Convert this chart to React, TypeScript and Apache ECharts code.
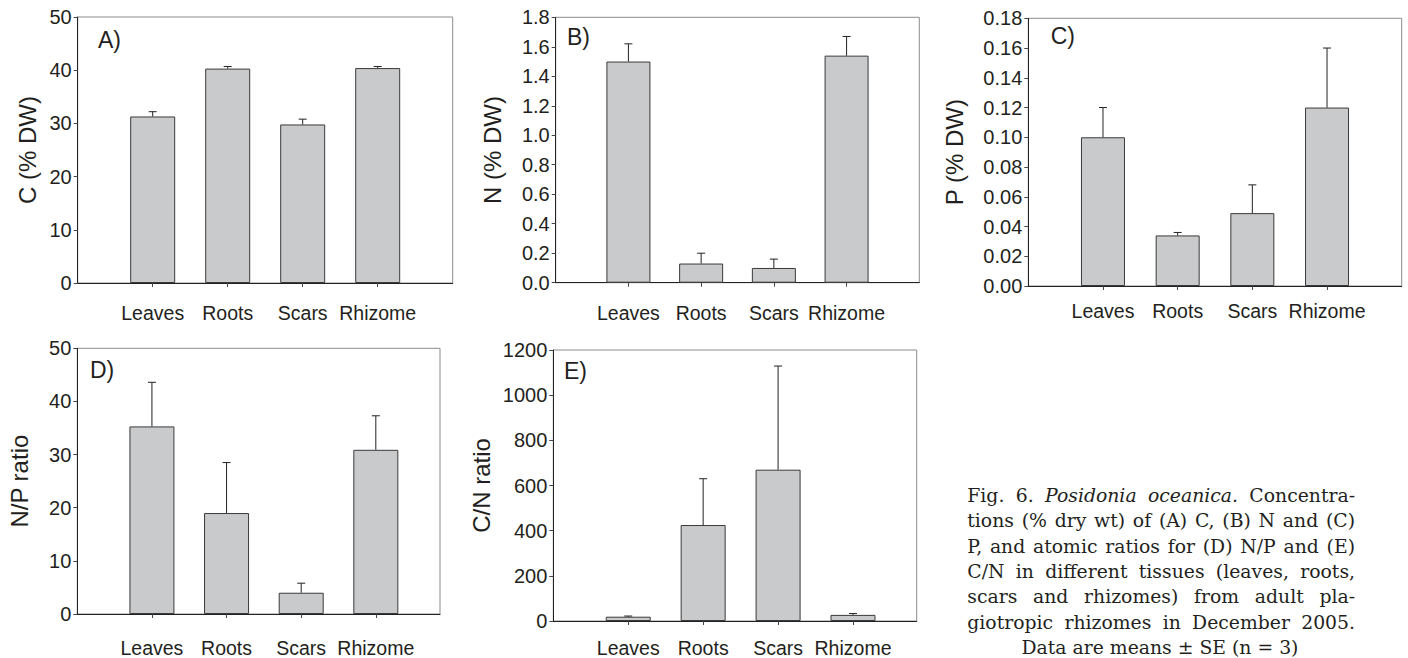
import React, { useEffect, useRef } from "react";
import * as echarts from "echarts";

// ---- Data ----
const categories = ["Leaves", "Roots", "Scars", "Rhizome"];
const categoryPositions = [1, 2, 3, 4];

const cMeans = [31.3, 40.3, 29.8, 40.4];
const cSE = [0.9, 0.4, 1.0, 0.3];
const cTicks = [0, 10, 20, 30, 40, 50];

const nMeans = [1.5, 0.13, 0.1, 1.54];
const nSE = [0.12, 0.07, 0.06, 0.13];
const nTicks = [0, 0.2, 0.4, 0.6, 0.8, 1.0, 1.2, 1.4, 1.6, 1.8];

const pMeans = [0.1, 0.034, 0.049, 0.12];
const pSE = [0.02, 0.002, 0.019, 0.04];
const pTicks = [0, 0.02, 0.04, 0.06, 0.08, 0.1, 0.12, 0.14, 0.16, 0.18];

const npMeans = [35.3, 19.0, 4.0, 30.9];
const npSE = [8.3, 9.5, 1.8, 6.4];
const npTicks = [0, 10, 20, 30, 40, 50];

const cnMeans = [19, 425, 670, 27];
const cnSE = [3, 205, 459, 6];
const cnTicks = [0, 200, 400, 600, 800, 1000, 1200];

const panelLetters = ["A)", "B)", "C)", "D)", "E)"];
const yTitles = ["C (% DW)", "N (% DW)", "P (% DW)", "N/P ratio", "C/N ratio"];
const tickDecimals = [0, 1, 2, 0, 0];

const captionLines = [
  "Fig. 6. _Posidonia _oceanica. Concentra-",
  "tions (% dry wt) of (A) C, (B) N and (C)",
  "P, and atomic ratios for (D) N/P and (E)",
  "C/N in different tissues (leaves, roots,",
  "scars and rhizomes) from adult pla-",
  "giotropic rhizomes in December 2005.",
  "Data are means ± SE (n = 3)",
];

// ---- Layout (pixels) ----
const layouts = [
  { left: 77.7, top: 17, width: 375, height: 266, xMax: 5, barW: 45, nameGap: 38, lx: 98, ly: 40, labelMargin: 19.5 },
  { left: 555.7, top: 17.3, width: 363.6, height: 265.4, xMax: 5, barW: 44, nameGap: 51, lx: 567, ly: 37, labelMargin: 20 },
  { left: 1028.3, top: 18.3, width: 373.4, height: 267.7, xMax: 5, barW: 44, nameGap: 62, lx: 1050.7, ly: 36, labelMargin: 15 },
  { left: 77.3, top: 348.3, width: 362.7, height: 265.7, xMax: 4.86, barW: 45, nameGap: 46, lx: 90, ly: 370, labelMargin: 23.5 },
  { left: 553.3, top: 350, width: 363.4, height: 271, xMax: 4.85, barW: 45, nameGap: 60, lx: 564, ly: 371, labelMargin: 16.5 },
];

const panelData = [
  { means: cMeans, se: cSE, ticks: cTicks },
  { means: nMeans, se: nSE, ticks: nTicks },
  { means: pMeans, se: pSE, ticks: pTicks },
  { means: npMeans, se: npSE, ticks: npTicks },
  { means: cnMeans, se: cnSE, ticks: cnTicks },
];

const TEXT = "#231f20";
const SANS = "Liberation Sans";
const SERIF = "DejaVu Serif";

function buildCaption(): any[] {
  const left = 967.3;
  const right = 1355;
  const width = right - left;
  const firstBaseline = 501.7;
  const lineStep = 25.3;
  const lastLineWidth = 277;
  const canvas = document.createElement("canvas");
  const ctx = canvas.getContext("2d") as CanvasRenderingContext2D;
  const fontOf = (it: boolean, s: number) => `${it ? "italic " : ""}${s}px "${SERIF}"`;
  const parse = (line: string) =>
    line.split(" ").map((w) => ({ text: w.replace(/^_/, ""), it: w.startsWith("_") }));
  const natural = (line: string, s: number) => {
    const words = parse(line);
    let t = 0;
    words.forEach((w) => {
      ctx.font = fontOf(w.it, s);
      t += ctx.measureText(w.text).width;
    });
    ctx.font = fontOf(false, s);
    t += ctx.measureText(" ").width * (words.length - 1);
    return t;
  };
  let size = (lastLineWidth / natural(captionLines[captionLines.length - 1], 100)) * 100;
  captionLines.slice(0, -1).forEach((l) => {
    const w = natural(l, size);
    if (w > width) size = (size * width) / w;
  });
  size = Math.min(size, 21);
  const els: any[] = [];
  captionLines.forEach((line, li) => {
    const y = firstBaseline + li * lineStep - 0.32 * size;
    const words = parse(line);
    const widths = words.map((w) => {
      ctx.font = fontOf(w.it, size);
      return ctx.measureText(w.text).width;
    });
    const total = widths.reduce((a, b) => a + b, 0);
    ctx.font = fontOf(false, size);
    const spaceW = ctx.measureText(" ").width;
    const isLast = li === captionLines.length - 1;
    let gap = isLast ? spaceW : (width - total) / (words.length - 1);
    if (gap < spaceW * 0.6) gap = spaceW * 0.6;
    let x = isLast ? 1160 - (total + spaceW * (words.length - 1)) / 2 : left;
    words.forEach((w, i) => {
      els.push({
        type: "text",
        x,
        y,
        silent: true,
        style: {
          text: w.text,
          fill: TEXT,
          font: fontOf(w.it, size),
          textAlign: "left",
          textVerticalAlign: "middle",
          verticalAlign: "middle",
        },
      });
      x += widths[i] + gap;
    });
  });
  return els;
}

export default function App() {
  const ref = useRef<HTMLDivElement>(null);
  useEffect(() => {
    if (!ref.current) return;
    const chart = echarts.init(ref.current, undefined, { renderer: "svg" });

    const grid: any[] = [];
    const xAxis: any[] = [];
    const yAxis: any[] = [];
    const series: any[] = [];
    const graphic: any[] = [];

    panelData.forEach((pd, i) => {
      const L = layouts[i];
      const ticks = pd.ticks;
      grid.push({
        left: L.left,
        top: L.top,
        width: L.width,
        height: L.height,
        show: true,
        borderColor: "#8c8c8c",
        borderWidth: 1,
        backgroundColor: "transparent",
        containLabel: false,
      });
      xAxis.push({
        type: "value",
        gridIndex: i,
        min: 0,
        max: L.xMax,
        splitLine: { show: false },
        axisLine: { show: true, onZero: false, lineStyle: { color: "#222", width: 1 } },
        axisTick: {
          show: true,
          customValues: categoryPositions,
          length: 4,
          inside: false,
          lineStyle: { color: "#444", width: 1 },
        },
        axisLabel: {
          show: true,
          customValues: categoryPositions,
          formatter: (v: number) => categories[Math.round(v) - 1] ?? "",
          margin: L.labelMargin,
          fontFamily: SANS,
          fontSize: 19.5,
          color: TEXT,
        },
      });
      yAxis.push({
        type: "value",
        gridIndex: i,
        min: ticks[0],
        max: ticks[ticks.length - 1],
        interval: ticks[1] - ticks[0],
        splitLine: { show: false },
        axisLine: { show: true, onZero: false, lineStyle: { color: "#222", width: 1 } },
        axisTick: { show: true, length: 4, inside: false, lineStyle: { color: "#444", width: 1 } },
        axisLabel: {
          formatter: (v: number) => v.toFixed(tickDecimals[i]),
          margin: 6,
          fontFamily: SANS,
          fontSize: 20,
          color: TEXT,
        },
        name: yTitles[i],
        nameLocation: "middle",
        nameRotate: 90,
        nameGap: L.nameGap,
        nameTextStyle: { fontFamily: SANS, fontSize: 24, color: TEXT },
      });
      series.push({
        type: "bar",
        xAxisIndex: i,
        yAxisIndex: i,
        barWidth: L.barW,
        data: pd.means.map((m, k) => [categoryPositions[k], m]),
        itemStyle: { color: "#c9cacc", borderColor: "#3a3a3a", borderWidth: 1 },
        silent: true,
        z: 2,
      });
      series.push({
        type: "custom",
        xAxisIndex: i,
        yAxisIndex: i,
        encode: { x: 0, y: 1 },
        data: pd.means.map((m, k) => [categoryPositions[k], m, pd.se[k]]),
        silent: true,
        z: 3,
        renderItem: (params: any, api: any) => {
          const x = api.value(0);
          const y = api.value(1);
          const e = api.value(2);
          const base = api.coord([x, y]);
          const top = api.coord([x, y + e]);
          return {
            type: "group",
            children: [
              {
                type: "line",
                shape: { x1: base[0], y1: base[1], x2: top[0], y2: top[1] },
                style: { stroke: "#222", lineWidth: 1 },
              },
              {
                type: "line",
                shape: { x1: top[0] - 4, y1: top[1], x2: top[0] + 4, y2: top[1] },
                style: { stroke: "#222", lineWidth: 1 },
              },
            ],
          };
        },
      });
      graphic.push({
        type: "text",
        x: L.lx,
        y: L.ly,
        silent: true,
        style: {
          text: panelLetters[i],
          fill: TEXT,
          font: `23px "${SANS}"`,
          textAlign: "left",
          textVerticalAlign: "middle",
          verticalAlign: "middle",
        },
      });
    });

    graphic.push(...buildCaption());

    chart.setOption({
      animation: false,
      backgroundColor: "#ffffff",
      textStyle: { fontFamily: SANS },
      grid,
      xAxis,
      yAxis,
      series,
      graphic,
    });
    return () => chart.dispose();
  }, []);
  return (
    <div
      ref={ref}
      style={{ position: "fixed", left: 0, top: 0, width: 1408, height: 658, background: "#fff" }}
    />
  );
}
